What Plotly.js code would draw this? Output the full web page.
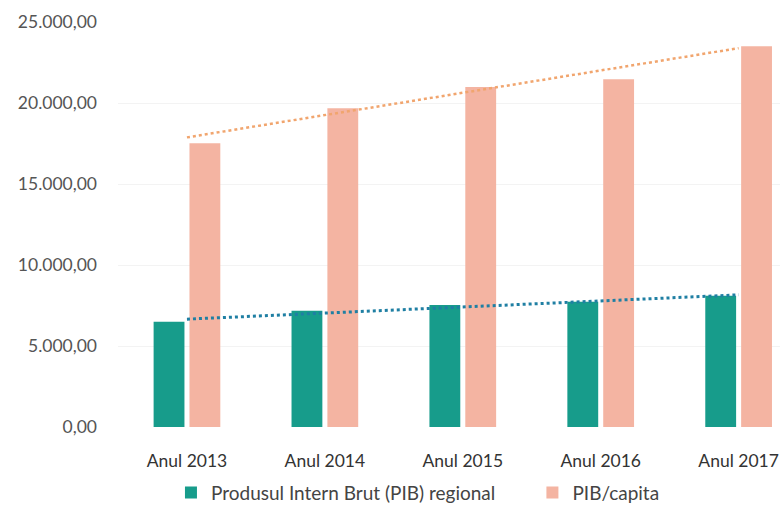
<!DOCTYPE html>
<html>
<head>
<meta charset="utf-8">
<script src="https://cdn.plot.ly/plotly-3.0.1.min.js"></script>
<style>
  html, body { margin: 0; padding: 0; background: #fff; }
  #chart { width: 781px; height: 514px; }
</style>
</head>
<body>
<div id="chart"></div>
<script>
CHART = document.getElementById('chart');

// Date
var ani = ['Anul 2013', 'Anul 2014', 'Anul 2015', 'Anul 2016', 'Anul 2017'];
var pibRegional = [6500, 7180, 7530, 7730, 8100];
var pibCapita = [17520, 19680, 20980, 21470, 23510];
var yTicks = [0, 5000, 10000, 15000, 20000, 25000];

// linie de tendinta liniara (ca in Excel), capetele la prima si ultima categorie
function trend(vals) {
    var n = vals.length, mx = (n - 1) / 2, my = 0, num = 0, den = 0;
    vals.forEach(function (v) { my += v / n; });
    vals.forEach(function (v, i) { num += (i - mx) * (v - my); den += (i - mx) * (i - mx); });
    var b = num / den, a = my - b * mx;
    return [a, a + b * (n - 1)];
}

var data = [{
    x: ani, y: pibRegional, type: 'bar', name: 'Produsul Intern Brut (PIB) regional',
    marker: { color: '#179c8b' }, legend: 'legend'
}, {
    x: ani, y: pibCapita, type: 'bar', name: 'PIB/capita',
    marker: { color: '#f4b4a2' }, legend: 'legend2'
}, {
    x: [ani[0], ani[ani.length - 1]], y: trend(pibRegional), type: 'scatter', mode: 'lines',
    line: { color: '#1f7fa3', width: 3, dash: 'dot' }, showlegend: false, hoverinfo: 'skip'
}, {
    x: [ani[0], ani[ani.length - 1]], y: trend(pibCapita), type: 'scatter', mode: 'lines',
    line: { color: '#f1a56e', width: 2.5, dash: 'dot' }, showlegend: false, hoverinfo: 'skip'
}];

var legendFont = { family: 'Lato', size: 19, color: '#444' };

var layout = {
    width: 781, height: 514,
    margin: { l: 118, r: 1, t: 22, b: 87 },
    separators: ',.',
    paper_bgcolor: '#fff', plot_bgcolor: '#fff',
    font: { family: 'Lato', size: 17, color: '#444' },
    bargap: 0.48, bargroupgap: 0.14,
    xaxis: {
        type: 'category', range: [-0.5, 4.3], showgrid: false, zeroline: false,
        showline: false, ticks: '', ticklabelstandoff: 21,
        tickfont: { size: 17.5, color: '#333' }
    },
    yaxis: {
        range: [0, 25000], tickvals: yTicks, tickformat: ',.2f',
        showgrid: true, gridcolor: '#f3f3f3', zeroline: false, showline: false,
        ticks: '', ticklabelstandoff: 20, tickfont: { size: 17.5, color: '#555' }
    },
    legend: {
        orientation: 'h', x: 0.08, xanchor: 'left', y: -0.115, yanchor: 'top',
        font: legendFont, itemwidth: 30
    },
    legend2: {
        orientation: 'h', x: 0.626, xanchor: 'left', y: -0.115, yanchor: 'top',
        font: legendFont, itemwidth: 30
    },
    showlegend: true
};

Plotly.newPlot(CHART, data, layout, { displayModeBar: false, staticPlot: true });
</script>
</body>
</html>
